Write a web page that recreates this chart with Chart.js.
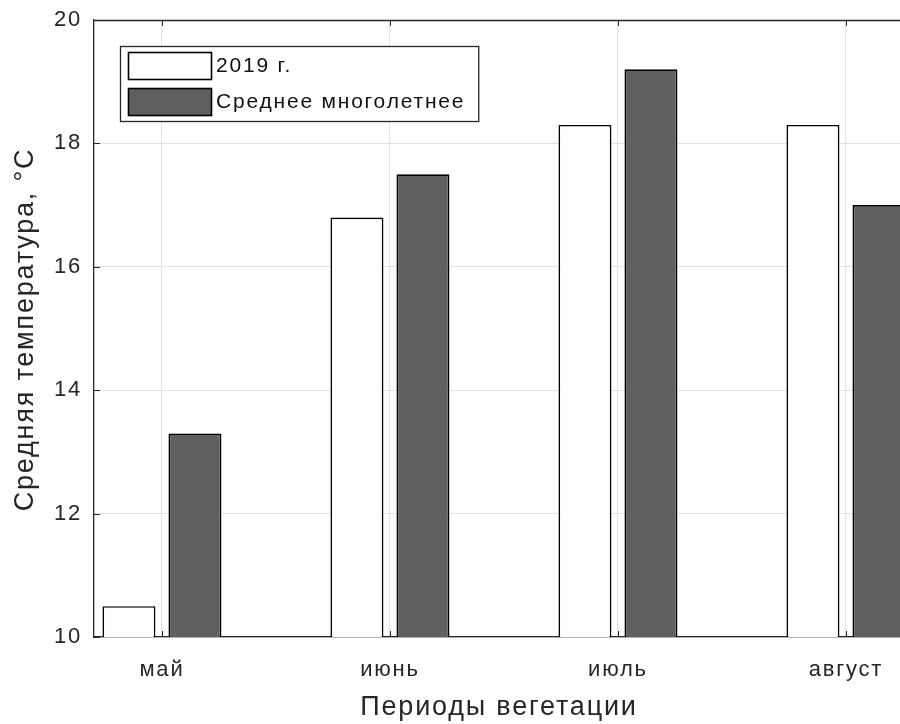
<!DOCTYPE html>
<html>
<head>
<meta charset="utf-8">
<script src="https://cdn.jsdelivr.net/npm/chart.js@4"></script>
<style>
  html, body { margin: 0; padding: 0; background: #fff; }
  #wrap { width: 900px; height: 724px; }
</style>
</head>
<body>
<div id="wrap"><canvas id="c" width="900" height="724"></canvas></div>
<script>
// Monthly mean air temperature over the growing season
const categories = ['май', 'июнь', 'июль', 'август'];
const positions = [1, 2, 3, 4];
const temp2019 = [10.5, 16.8, 18.3, 18.3];
const tempLongTerm = [13.3, 17.5, 19.2, 17.0];
const yTicks = [10, 12, 14, 16, 18, 20];
const seriesNames = ['2019 г.', 'Среднее многолетнее'];
const xTitle = 'Периоды вегетации';
const yTitle = 'Средняя температура, °C';

const FONT = '"Liberation Sans", Arial, sans-serif';
const AXIS_COLOR = '#262626';
const SPACING = '1.8px';

const toPoints = vals => vals.map((v, i) => ({ x: positions[i], y: v }));

// Slightly open letter spacing for all canvas text
const spacing = {
  id: 'spacing',
  beforeUpdate(chart) { chart.ctx.letterSpacing = SPACING; },
  beforeDraw(chart) { chart.ctx.letterSpacing = SPACING; }
};

// Axes box, inward tick marks, axis titles and the boxed legend
const decorations = {
  id: 'decorations',
  afterDatasetsDraw(chart) {
    const { ctx, chartArea: a, scales } = chart;
    ctx.save();
    ctx.letterSpacing = SPACING;
    ctx.strokeStyle = AXIS_COLOR;
    ctx.lineWidth = 1.3;
    // top frame line
    ctx.beginPath();
    ctx.moveTo(a.left, a.top + 0.5);
    ctx.lineTo(a.right, a.top + 0.5);
    ctx.stroke();
    // inward ticks
    const tl = 6;
    ctx.lineWidth = 1;
    ctx.beginPath();
    yTicks.forEach(v => {
      const y = Math.round(scales.y.getPixelForValue(v)) + 0.5;
      ctx.moveTo(a.left, y); ctx.lineTo(a.left + tl, y);
    });
    positions.forEach(v => {
      const x = Math.round(scales.x.getPixelForValue(v)) + 0.5;
      ctx.moveTo(x, a.top); ctx.lineTo(x, a.top + tl);
      ctx.moveTo(x, a.bottom); ctx.lineTo(x, a.bottom - tl);
    });
    ctx.stroke();

    // axis titles
    ctx.fillStyle = AXIS_COLOR;
    ctx.font = '27px ' + FONT;
    ctx.textAlign = 'center';
    ctx.textBaseline = 'alphabetic';
    ctx.fillText(xTitle, (a.left + a.right) / 2 + 2, a.bottom + 78);
    ctx.save();
    ctx.translate(33, (a.top + a.bottom) / 2 + 1);
    ctx.rotate(-Math.PI / 2);
    ctx.fillText(yTitle, 0, 0);
    ctx.restore();

    // legend
    const bx = a.left + 26, by = a.top + 26;
    const swW = 83, swH = 27, rowGap = 36;
    ctx.font = '21px ' + FONT;
    const textW = Math.max(...seriesNames.map(s => ctx.measureText(s).width));
    const boxW = 8 + swW + 5 + textW + 13;
    const boxH = 6 + swH + (rowGap - swH) + swH + 6;
    ctx.fillStyle = '#fff';
    ctx.fillRect(bx, by, boxW, boxH);
    ctx.lineWidth = 1.3;
    ctx.strokeStyle = AXIS_COLOR;
    ctx.strokeRect(bx + 0.5, by + 0.5, boxW, boxH);
    chart.data.datasets.forEach((ds, i) => {
      const sx = bx + 8, sy = by + 6 + i * rowGap;
      ctx.fillStyle = ds.backgroundColor;
      ctx.fillRect(sx, sy, swW, swH);
      ctx.lineWidth = 1.6;
      ctx.strokeStyle = '#000';
      ctx.strokeRect(sx + 0.5, sy + 0.5, swW, swH);
      ctx.fillStyle = '#111';
      ctx.textBaseline = 'middle';
      ctx.textAlign = 'left';
      ctx.fillText(ds.label, sx + swW + 5, sy + swH / 2 + 1);
    });
    ctx.restore();
  }
};

new Chart(document.getElementById('c'), {
  type: 'bar',
  data: {
    datasets: [
      {
        label: seriesNames[0],
        data: toPoints(temp2019),
        backgroundColor: '#ffffff',
        borderColor: '#000000',
        borderWidth: 1.7,
        borderSkipped: false
      },
      {
        label: seriesNames[1],
        data: toPoints(tempLongTerm),
        backgroundColor: '#606060',
        borderColor: '#000000',
        borderWidth: 1.7,
        borderSkipped: false
      }
    ]
  },
  options: {
    responsive: false,
    animation: false,
    categoryPercentage: 0.579,
    barPercentage: 0.803,
    layout: { padding: { top: 20, right: 0, left: 0, bottom: 0 } },
    plugins: {
      legend: { display: false },
      tooltip: { enabled: false }
    },
    scales: {
      x: {
        type: 'linear',
        offset: false,
        min: 0.702,
        max: 4.237,
        afterBuildTicks: s => { s.ticks = positions.map(v => ({ value: v })); },
        afterFit: s => { s.height = 87; s.paddingLeft = 0; s.paddingRight = 0; },
        ticks: {
          callback: v => categories[positions.indexOf(v)],
          font: { family: FONT, size: 22 },
          color: AXIS_COLOR,
          padding: 20,
          maxRotation: 0,
          autoSkip: false
        },
        grid: { color: '#e2e2e2', lineWidth: 1, drawTicks: false, offset: false },
        border: { display: true, color: AXIS_COLOR, width: 1.3 }
      },
      y: {
        min: 10,
        max: 20,
        afterBuildTicks: s => { s.ticks = yTicks.map(v => ({ value: v })); },
        afterFit: s => { s.width = 94; s.paddingTop = 0; s.paddingBottom = 0; },
        ticks: {
          font: { family: FONT, size: 22 },
          color: AXIS_COLOR,
          padding: 12
        },
        grid: { color: '#e2e2e2', lineWidth: 1, drawTicks: false },
        border: { display: true, color: AXIS_COLOR, width: 1.3 }
      }
    }
  },
  plugins: [spacing, decorations]
});
</script>
</body>
</html>
